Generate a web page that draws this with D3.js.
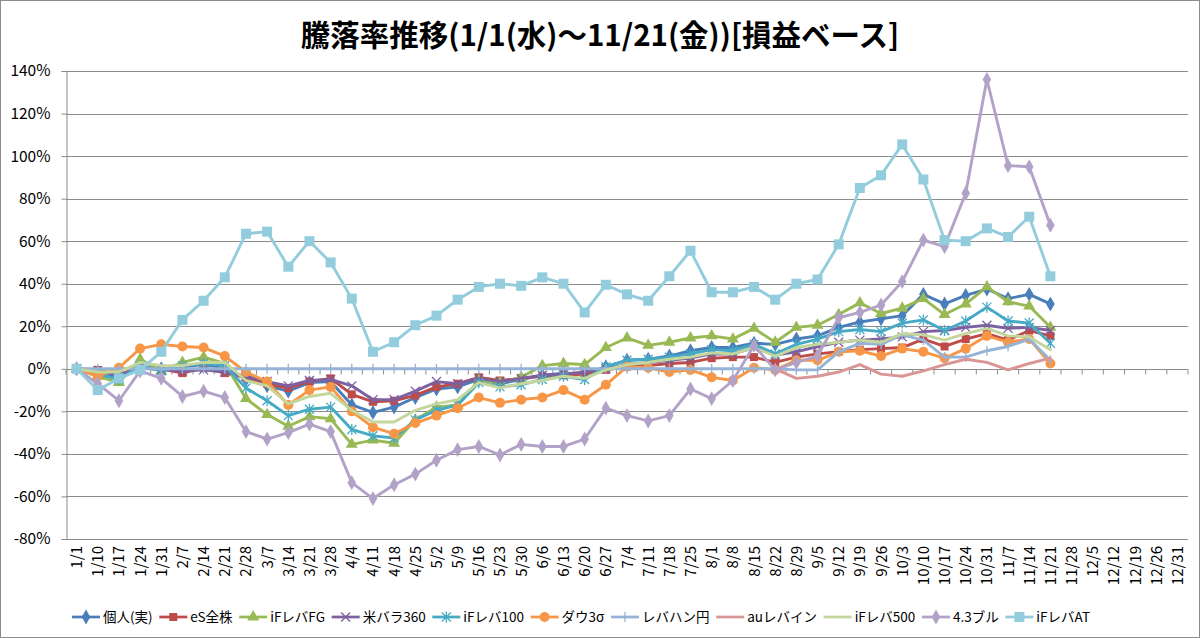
<!DOCTYPE html>
<html>
<head>
<meta charset="utf-8">
<script src="https://cdn.jsdelivr.net/npm/d3@7/dist/d3.min.js"></script>
<style>
  body { margin: 0; background: #fff; }
  svg { display: block; font-family: "Noto Sans CJK JP", "Noto Sans", sans-serif; }
</style>
</head>
<body>
<svg id="chart" width="1200" height="638"></svg>
<script>
// categories (weekly dates)
var dates = ["1/1","1/10","1/17","1/24","1/31","2/7","2/14","2/21","2/28","3/7","3/14","3/21","3/28",
  "4/4","4/11","4/18","4/25","5/2","5/9","5/16","5/23","5/30","6/6","6/13","6/20","6/27",
  "7/4","7/11","7/18","7/25","8/1","8/8","8/15","8/22","8/29","9/5","9/12","9/19","9/26",
  "10/3","10/10","10/17","10/24","10/31","11/7","11/14","11/21","11/28","12/5","12/12","12/19","12/26","12/31"];

var yTicks = [-80, -60, -40, -20, 0, 20, 40, 60, 80, 100, 120, 140];

// series values (%), 1/1 .. 11/21  (null = no data yet)
var kojin = [0,-3,-3.5,1,0,1,2,0.5,-5,-8,-10.5,-6.5,-6,-17,-20.5,-18,-13.5,-9.5,-8.5,-5,-7,-5,-3,-2,-2.5,1,4,4.5,6,8.5,10,10,12,11.5,14,15.5,19.5,22,23.5,25,35,30.5,34.5,37.5,33,35,30.5];
var esZenkabu = [0,-0.5,-3,1,0,-2,0.5,-2,-4,-7,-9,-6,-4.5,-12,-15.5,-15,-12.5,-8.5,-7,-4,-5.5,-4.5,-3.5,-3,-2.5,-0.5,1,1.5,2.5,3,5,5.5,5.5,3,5.5,7,8,9,9.5,10,14,10.5,14,16.5,13.5,18,15.5];
var ifLevaFG = [0,-3.5,-6.5,4.5,-1,3,5.5,2.5,-14,-21.5,-27,-22.5,-23.5,-35.5,-33.5,-35,-24,-18,-17,-5.5,-6.5,-4,1.5,2.5,2,10,14.5,11,12.5,14.5,15.5,14,19,12.5,19.5,20.5,25.5,31,26,28.5,33,25.5,30.5,38.5,31.5,29.5,19.5];
var beiBara360 = [0,-1,-3,0.5,-0.5,-1,-0.5,-1.5,-3.5,-6,-8,-5.5,-5,-8,-14.5,-14.5,-10.5,-6,-7,-4.5,-6,-4.5,-3,-2.5,-1.5,0,2,3,4,5,7,7,10,6.5,8,10.5,12.5,13.5,14,15,17.5,18,19.5,20.5,19,19.5,18];
var ifLeva100 = [0,-2.5,-5,1.5,-1,1.5,2.5,1.5,-9,-15,-22,-19,-18,-28.5,-31.5,-32.5,-24,-19.5,-17,-6.5,-8.5,-7.5,-5,-3.5,-5,1,4,4.5,5.5,7,9,8.5,11.5,7,11.5,14,17.5,18.5,17.5,21.5,23,18,22.5,29,22.5,21.5,12];
var dow3s = [0,-3.5,0.5,9.5,11.5,10.5,10,6,-1.5,-6,-17,-10,-8.5,-20,-27.5,-30.5,-25.5,-22,-18.5,-13.5,-16,-14.5,-13.5,-10,-14.5,-7.5,1,0.5,-1.5,-0.5,-4,-5.5,0.5,-0.5,4,4,8,8.5,6,9.5,8,5,9.5,15.5,12.5,14,2.5];
var levahanYen = [0,0,0,0,0,0,0,0,0,0,0,0,0,0,0,0,0,0,0,0,0,0,0,0,0,0,0,0,0,0,0,0,0,0,-0.5,-0.5,8,12,11.5,16,13.5,5.5,5.5,8.5,10.5,14,4];
var auLevaIn = [null,null,null,null,null,null,null,null,null,null,null,null,null,null,null,null,null,null,null,null,null,null,null,null,null,null,null,null,null,null,null,null,null,0,-4.5,-3.5,-1.5,2,-2.5,-3.5,-1,2,4.5,3,-0.5,2.5,5];
var ifLeva500 = [0,-1.5,-1.5,3,1.5,1.5,3,3,-5.5,-8,-16.5,-13,-11.5,-19.5,-25,-25,-19.5,-16.5,-14.5,-6.5,-9,-7,-5.5,-3.5,-4.5,-0.5,2,3,4.5,5.5,7.5,7,10,6,10,11.5,12.5,13.5,12.5,16.5,16,13.5,16.5,19,15.5,15,9];
var bull43 = [0,-7,-15,-1,-4.5,-13,-10.5,-13.5,-29.5,-33,-30,-26,-29.5,-53.5,-61,-54.5,-49.5,-43,-38,-36.5,-40.5,-35.5,-36.5,-36.5,-33,-18.5,-22,-24.5,-22,-9.5,-14,-5.5,11,-0.5,3,6,24,26.5,30,41,60.5,57.5,82.5,136,95.5,95,67.5];
var ifLevaAT = [0,-10,-4.5,-0.5,8,23,32,43,63.5,64.5,48,60,50,33,8,12.5,20.5,25,32.5,38.5,40,39,43,40,26.5,39.5,35,32,43.5,55.5,36,36,38.5,32.5,40,42,58.5,85,91,105.5,89,60.5,60,66,62,71.5,43.5];

var seriesNames = ["個人(実)","eS全株","iFレバFG","米バラ360","iFレバ100","ダウ3σ","レバハン円","auレバイン","iFレバ500","4.3ブル","iFレバAT"];
var seriesValues = [kojin, esZenkabu, ifLevaFG, beiBara360, ifLeva100, dow3s, levahanYen, auLevaIn, ifLeva500, bull43, ifLevaAT];
var seriesColors = ["#4A7EBB","#BE4B48","#98B954","#7D60A0","#46AAC5","#F79646","#95B3D7","#D99694","#C3D69B","#B3A2C7","#93CDDD"];
var seriesMarkers = ["diamond","square","triangle","x","star","circle","dash","none","none","diamond","bigsquare"];

var svg = d3.select("#chart");
// plot area
var plotL = 66, plotR = 1188, plotT = 71, plotB = 539;

var x = d3.scaleBand().domain(dates).range([plotL, plotR]);
var y = d3.scaleLinear().domain([-80, 140]).range([plotB, plotT]);
var cx = function(i) { return x(dates[i]) + x.bandwidth() / 2; };

// outer frame
svg.append("rect").attr("x", 0.5).attr("y", 0.5).attr("width", 1199).attr("height", 637)
  .attr("fill", "#fff").attr("stroke", "#8c8c8c");

// title
svg.append("text").attr("x", 600).attr("y", 46).attr("text-anchor", "middle")
  .attr("font-size", 29.5).attr("font-weight", "bold").attr("fill", "#000")
  .text("騰落率推移(1/1(水)～11/21(金))[損益ベース]");

// gridlines + y axis
svg.append("g").selectAll("line").data(yTicks).join("line")
  .attr("x1", plotL).attr("x2", plotR)
  .attr("y1", d => Math.round(y(d)) + 0.5).attr("y2", d => Math.round(y(d)) + 0.5)
  .attr("stroke", "#8c8c8c").attr("stroke-width", 1);

var yAxis = svg.append("g").attr("transform", "translate(" + (plotL + 0.5) + ",0)")
  .call(d3.axisLeft(y).tickValues(yTicks).tickSize(5).tickPadding(11).tickFormat(d => d + "%"));
yAxis.selectAll("path, line").attr("stroke", "#8c8c8c");
yAxis.selectAll("text").attr("font-size", 15.5).attr("fill", "#000")
  .attr("font-family", "'Noto Sans CJK JP', sans-serif");

// category axis crossing at 0
var y0 = Math.round(y(0)) + 0.5;
svg.append("line").attr("x1", plotL).attr("x2", plotR).attr("y1", y0).attr("y2", y0)
  .attr("stroke", "#8c8c8c");
svg.append("g").selectAll("line").data(d3.range(dates.length + 1)).join("line")
  .attr("x1", i => plotL + i * x.bandwidth()).attr("x2", i => plotL + i * x.bandwidth())
  .attr("y1", y0).attr("y2", y0 + 5).attr("stroke", "#8c8c8c");

// category labels, low position, rotated
svg.append("g").selectAll("text").data(dates).join("text")
  .attr("transform", (d, i) => "translate(" + (cx(i) + 5.5) + "," + 546 + ") rotate(-90)")
  .attr("text-anchor", "end").attr("font-size", 15).attr("fill", "#000")
  .text(d => d);

// markers
function drawMarker(g, type, color, px, py) {
  if (type == "none") return;
  if (type == "diamond") {
    g.append("path").attr("d", d3.symbol(d3.symbolDiamond, 64)())
      .attr("transform", "translate(" + px + "," + py + ")").attr("fill", color);
  } else if (type == "square" || type == "bigsquare") {
    var s = type == "square" ? 8 : 10;
    g.append("rect").attr("x", px - s / 2).attr("y", py - s / 2).attr("width", s).attr("height", s)
      .attr("fill", color);
  } else if (type == "triangle") {
    g.append("path").attr("d", d3.symbol(d3.symbolTriangle, 62)())
      .attr("transform", "translate(" + px + "," + py + ")").attr("fill", color);
  } else if (type == "circle") {
    g.append("circle").attr("cx", px).attr("cy", py).attr("r", 5).attr("fill", color);
  } else if (type == "x" || type == "star") {
    var r = 4.5;
    var p = "M" + (px - r) + "," + (py - r) + "L" + (px + r) + "," + (py + r) +
            "M" + (px - r) + "," + (py + r) + "L" + (px + r) + "," + (py - r);
    if (type == "star") p += "M" + px + "," + (py - r - 1) + "L" + px + "," + (py + r + 1);
    g.append("path").attr("d", p).attr("stroke", color).attr("stroke-width", 1.3).attr("fill", "none");
  } else if (type == "dash") {
    g.append("line").attr("x1", px).attr("x2", px).attr("y1", py - 5).attr("y2", py + 5)
      .attr("stroke", color).attr("stroke-width", 1.3);
  }
}

var line = d3.line().defined(d => d != null).x((d, i) => cx(i)).y(d => y(d));

seriesValues.forEach(function(vals, k) {
  var g = svg.append("g");
  g.append("path").datum(vals).attr("d", line)
    .attr("fill", "none").attr("stroke", seriesColors[k]).attr("stroke-width", 2.9)
    .attr("stroke-linejoin", "round").attr("stroke-linecap", "round");
  vals.forEach(function(v, i) {
    if (v != null) drawMarker(g, seriesMarkers[k], seriesColors[k], cx(i), y(v));
  });
});

// legend
var legend = svg.append("g");
var items = [];
seriesNames.forEach(function(name, k) {
  var t = legend.append("text").attr("y", 622).attr("font-size", 13.5).attr("fill", "#000").text(name);
  items.push({ t: t, w: t.node().getComputedTextLength() });
});
var sample = 28, gap1 = 3;
var totalText = d3.sum(items, d => d.w) + items.length * (sample + gap1);
var gap = (1090 - 72 - totalText) / (items.length - 1);
var lx = 72;
items.forEach(function(it, k) {
  legend.append("line").attr("x1", lx).attr("x2", lx + sample).attr("y1", 617).attr("y2", 617)
    .attr("stroke", seriesColors[k]).attr("stroke-width", 2.75);
  drawMarker(legend, seriesMarkers[k], seriesColors[k], lx + sample / 2, 617);
  it.t.attr("x", lx + sample + gap1);
  lx += sample + gap1 + it.w + gap;
});
</script>
</body>
</html>
